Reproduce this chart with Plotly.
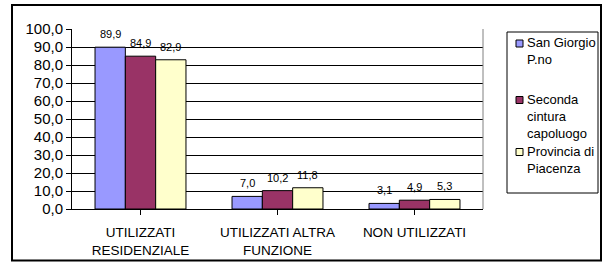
import plotly.graph_objects as go

categories = ["UTILIZZATI<br>RESIDENZIALE", "UTILIZZATI ALTRA<br>FUNZIONE", "NON UTILIZZATI"]
series_names = ["San Giorgio<br>P.no", "Seconda<br>cintura<br>capoluogo", "Provincia di<br>Piacenza"]
san_giorgio = [89.9, 7.0, 3.1]
seconda_cintura = [84.9, 10.2, 4.9]
provincia_piacenza = [82.9, 11.8, 5.3]
tick_values = [0, 10, 20, 30, 40, 50, 60, 70, 80, 90, 100]
tick_labels = ["0,0", "10,0", "20,0", "30,0", "40,0", "50,0", "60,0", "70,0", "80,0", "90,0", "100,0"]

series_values = [san_giorgio, seconda_cintura, provincia_piacenza]
colors = ["#9999FF", "#993366", "#FFFFCC"]

W, H = 603, 262
PL, PR, PT, PB = 72, 483, 29, 209
BARGAP = 0.336
FONT = "Liberation Sans, Arial, sans-serif"


def px(x):
    return (x - PL) / (PR - PL)


def py(y):
    return (PB - y) / (PB - PT)


def fmt(v):
    return f"{v:.1f}".replace(".", ",")


fig = go.Figure()
for name, vals, col in zip(series_names, series_values, colors):
    fig.add_trace(go.Bar(
        x=list(range(len(categories))), y=vals, name=name,
        marker=dict(color=col, line=dict(color="black", width=1)),
        showlegend=False, hoverinfo="skip",
    ))

annotations = []
bw = (1 - BARGAP) / len(series_values)
for j, vals in enumerate(series_values):
    for i, v in enumerate(vals):
        annotations.append(dict(
            x=i + (j - 1) * bw, y=v, xref="x", yref="y",
            text=fmt(v), showarrow=False, yanchor="bottom", yshift=5,
            font=dict(size=11, color="#000000", family=FONT),
        ))

# Manual legend (box, swatches, labels)
shapes = [
    # outer chart border
    dict(type="rect", xref="paper", yref="paper",
         x0=px(12), x1=px(601), y0=py(260.5), y1=py(5),
         line=dict(color="#000000", width=2), layer="below"),
    # right edge of plot area
    dict(type="line", xref="paper", yref="paper",
         x0=1, x1=1, y0=0, y1=1, line=dict(color="#808080", width=1)),
    # legend box
    dict(type="rect", xref="paper", yref="paper",
         x0=px(507), x1=px(598), y0=py(193), y1=py(32),
         line=dict(color="#000000", width=1)),
]
legend_centers = [43.5, 100, 152]
for name, col, cy in zip(series_names, colors, legend_centers):
    shapes.append(dict(type="rect", xref="paper", yref="paper",
                       x0=px(516), x1=px(523), y0=py(cy + 3.5), y1=py(cy - 3.5),
                       fillcolor=col, line=dict(color="#000000", width=1)))
    annotations.append(dict(
        x=px(526), y=py(cy - 9.5), xref="paper", yref="paper",
        text=name, showarrow=False, xanchor="left", yanchor="top", align="left",
        borderpad=0, font=dict(size=13, color="#000000", family=FONT),
    ))

fig.update_layout(
    width=W, height=H,
    margin=dict(l=PL, r=W - PR, t=PT, b=H - PB),
    paper_bgcolor="white", plot_bgcolor="white",
    barmode="group", bargap=BARGAP, bargroupgap=0,
    font=dict(family=FONT, color="#000000"),
    shapes=shapes, annotations=annotations,
    hovermode=False,
    xaxis=dict(
        tickmode="array", tickvals=list(range(len(categories))), ticktext=categories,
        range=[-0.5, len(categories) - 0.5],
        showline=True, linecolor="#000000", linewidth=1,
        ticks="outside", tickson="boundaries", ticklen=5, tickcolor="#000000",
        showgrid=False, tickfont=dict(size=13.5, color="#000000"),
        ticklabelstandoff=6, automargin=False,
    ),
    yaxis=dict(
        range=[0, 100], tickmode="array", tickvals=tick_values, ticktext=tick_labels,
        showline=True, linecolor="#000000", linewidth=1,
        ticks="outside", ticklen=5, tickcolor="#000000",
        showgrid=True, gridcolor="#000000", gridwidth=1, zeroline=False,
        tickfont=dict(size=15, color="#000000"), automargin=False,
    ),
)

fig.write_html(
    "out.html",
    config={"displayModeBar": False, "staticPlot": True},
    post_script="document.body.style.margin='0';document.body.style.padding='0';",
)
